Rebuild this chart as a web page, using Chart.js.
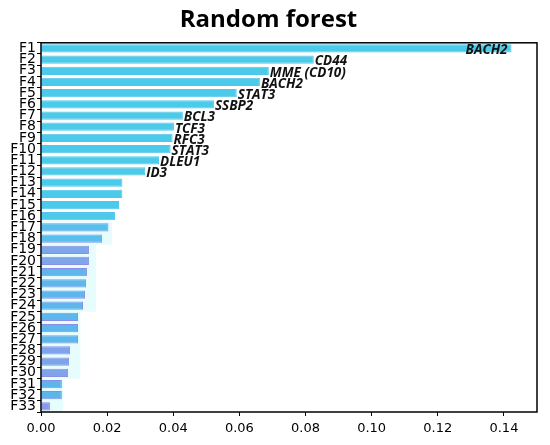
<!DOCTYPE html>
<html>
<head>
<meta charset="utf-8">
<script src="https://cdn.jsdelivr.net/npm/chart.js@4"></script>
<style>
  html, body { margin: 0; padding: 0; background: #fff; }
  #wrap { width: 550px; height: 445px; }
</style>
</head>
<body>
<div id="wrap"><canvas id="chart"></canvas></div>
<script>
// Feature ranks and their importance values
const features = ["F1","F2","F3","F4","F5","F6","F7","F8","F9","F10","F11","F12","F13","F14","F15","F16","F17",
  "F18","F19","F20","F21","F22","F23","F24","F25","F26","F27","F28","F29","F30","F31","F32","F33"];
const importance = [0.1423, 0.0825, 0.0689, 0.0662, 0.0592, 0.0523, 0.0429, 0.0402, 0.0398, 0.0392, 0.0357,
  0.0315, 0.0246, 0.0246, 0.0236, 0.0224, 0.0204, 0.0185, 0.0145, 0.0145, 0.0139, 0.0136, 0.0133, 0.0127,
  0.0112, 0.0112, 0.0112, 0.0088, 0.0085, 0.0082, 0.0063, 0.0063, 0.0027];
// gene names written next to the top bars
const genes = ["BACH2","CD44","MME (CD10)","BACH2","STAT3","SSBP2","BCL3","TCF3","RFC3","STAT3","DLEU1","ID3"];
// faint halo behind the lower bars
const halo = [null,null,null,null,null,null,null,null,null,null,null,null,null,null,null,null,
  0.0214, 0.0214, 0.0166, 0.0166, 0.0166, 0.0166, 0.0166, 0.0166,
  0.0118, 0.0118, 0.0118, 0.0118, 0.0118, 0.0118, 0.0066, 0.0066, 0.0066];
const xTicks = [0, 0.02, 0.04, 0.06, 0.08, 0.10, 0.12, 0.14];

const fills = importance.map((v, i) => {
  if (i < 16) return "#4ccae9";
  if (i < 18) return "#56bfeb";
  if (i < 20) return "#7fa6ea";
  if (i < 27) return "#5db7ec";
  if (i < 30) return "#7fa3ea";
  if (i < 32) return "#5cb6ec";
  return "#8a9ae8";
});
const borders = importance.map((v, i) => i < 16 ? "#52c6ea" : "#8a8fe4");

// box around the plot + gene labels
const extras = {
  id: "extras",
  afterDatasetsDraw(chart) {
    const { ctx, chartArea: a } = chart;
    const meta = chart.getDatasetMeta(1);
    ctx.save();
    ctx.font = "italic bold 13.5px 'Open Sans'";
    ctx.fillStyle = "#111";
    ctx.textBaseline = "middle";
    genes.forEach((g, i) => {
      const bar = meta.data[i];
      if (i === 0) {
        ctx.textAlign = "right";
        ctx.fillText(g, bar.x - 4, bar.y + 2);
      } else {
        ctx.textAlign = "left";
        ctx.fillText(g, bar.x + 1, bar.y + 2);
      }
    });
    ctx.strokeStyle = "#000";
    ctx.lineWidth = 1.5;
    ctx.strokeRect(a.left, a.top, a.right - a.left, a.bottom - a.top);
    ctx.restore();
  }
};

new Chart(document.getElementById("chart"), {
  type: "bar",
  data: {
    labels: features,
    datasets: [
      {
        data: halo,
        backgroundColor: "#e6fcfd",
        borderWidth: 0,
        barPercentage: 1,
        categoryPercentage: 1,
        grouped: false,
        order: 2
      },
      {
        data: importance,
        backgroundColor: fills,
        borderColor: borders,
        borderWidth: 1,
        barPercentage: 0.74,
        categoryPercentage: 1,
        grouped: false,
        order: 1
      }
    ]
  },
  options: {
    indexAxis: "y",
    responsive: true,
    maintainAspectRatio: false,
    animation: false,
    layout: { padding: { left: 0, right: 13, top: 0, bottom: 0 } },
    plugins: {
      legend: { display: false },
      tooltip: { enabled: false },
      title: {
        display: true,
        text: "Random forest",
        color: "#000",
        font: { family: "'Open Sans'", size: 24, weight: "bold" },
        padding: { top: 6, bottom: 8 }
      }
    },
    scales: {
      x: {
        min: 0,
        max: 0.15,
        afterBuildTicks(scale) { scale.ticks = xTicks.map(v => ({ value: v })); },
        afterFit(scale) { scale.height = 33; },
        grid: { display: true, drawOnChartArea: false, drawTicks: true, tickLength: 4, color: "#000", tickColor: "#000" },
        border: { display: false },
        ticks: {
          color: "#000",
          padding: 5,
          maxRotation: 0,
          font: { family: "'DejaVu Sans'", size: 13 },
          callback: v => Number(v).toFixed(2)
        }
      },
      y: {
        offset: true,
        afterFit(scale) { scale.width = 41; },
        grid: { display: true, drawOnChartArea: false, drawTicks: true, tickLength: 4, color: "#000", tickColor: "#000" },
        border: { display: false },
        ticks: {
          color: "#000",
          padding: 1,
          autoSkip: false,
          font: { family: "'DejaVu Sans'", size: 14 }
        }
      }
    }
  },
  plugins: [extras]
});
</script>
</body>
</html>
